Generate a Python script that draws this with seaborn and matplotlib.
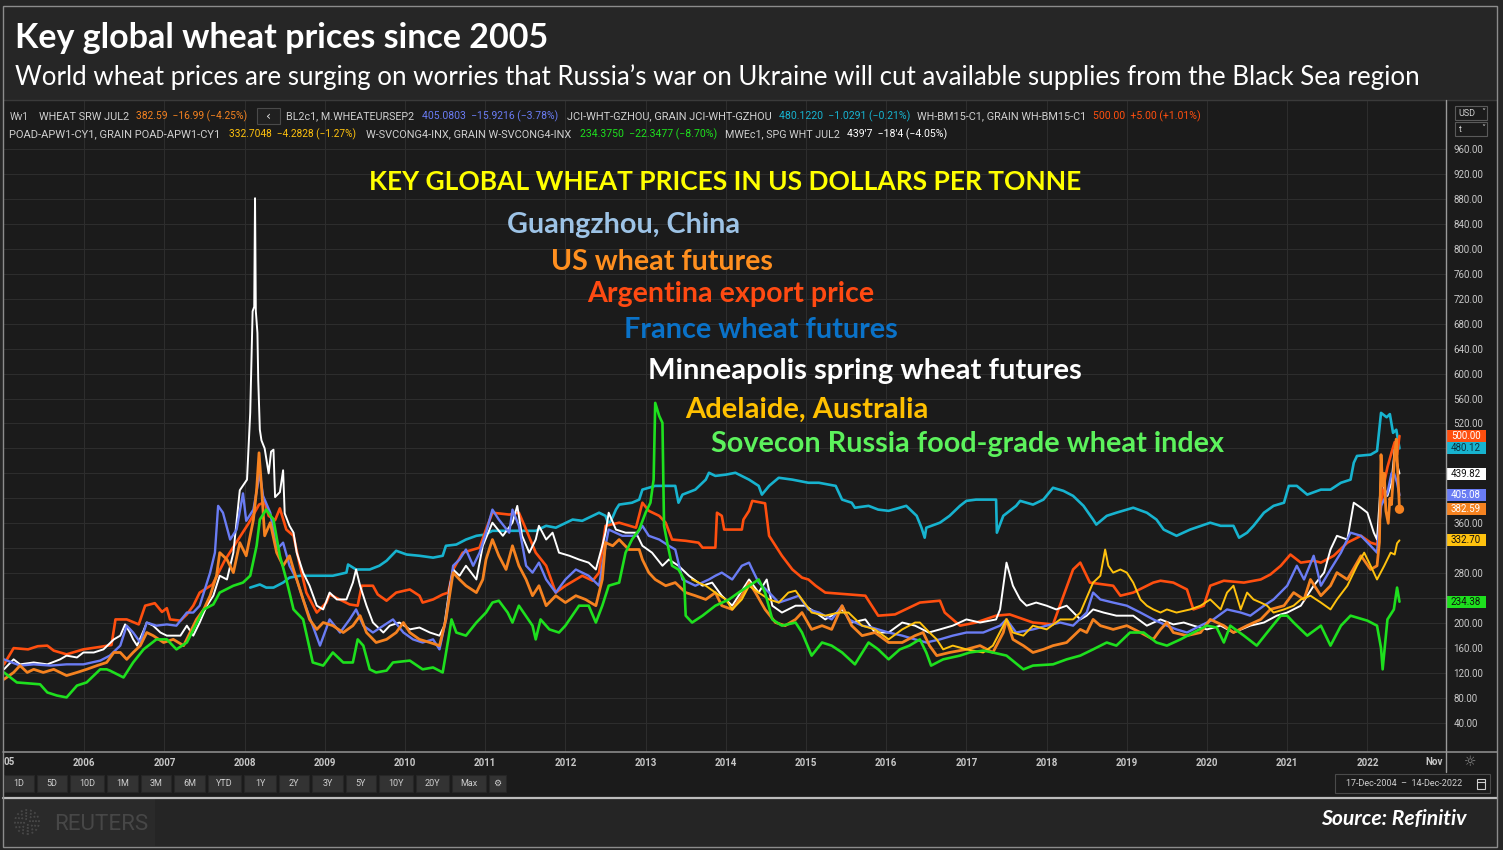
import numpy as np
import pandas as pd
import matplotlib
matplotlib.use("Agg")
import matplotlib.pyplot as plt
import seaborn as sns
from matplotlib.patches import Rectangle, Circle
from matplotlib.lines import Line2D
from matplotlib.transforms import IdentityTransform, blended_transform_factory
from matplotlib.ticker import FuncFormatter

# ---------------- DATA (decimal year, US$ per tonne) ----------------
arg_t = [2005.00, 2005.12, 2005.30, 2005.42, 2005.54, 2005.62, 2005.78, 2005.99, 2006.20, 2006.34, 2006.39, 2006.53,
         2006.68, 2006.76, 2006.88, 2006.97, 2007.03, 2007.07, 2007.20, 2007.28, 2007.36, 2007.44, 2007.60, 2007.75,
         2007.90, 2008.05, 2008.18, 2008.25, 2008.30, 2008.38, 2008.44, 2008.52, 2008.61, 2008.69, 2008.77, 2008.90,
         2009.02, 2009.06, 2009.31, 2009.41, 2009.46, 2009.60, 2009.66, 2009.77, 2009.89, 2010.06, 2010.18, 2010.22,
         2010.35, 2010.47, 2010.54, 2010.60, 2010.72, 2010.85, 2010.93, 2011.01, 2011.09, 2011.30, 2011.42, 2011.51,
         2011.63, 2011.76, 2011.88, 2012.00, 2012.21, 2012.34, 2012.42, 2012.50, 2012.67, 2012.88, 2012.96, 2013.04,
         2013.17, 2013.25, 2013.33, 2013.50, 2013.66, 2013.71, 2013.87, 2013.89, 2013.95, 2013.98, 2014.20, 2014.22,
         2014.29, 2014.33, 2014.49, 2014.54, 2014.70, 2014.83, 2014.95, 2015.03, 2015.12, 2015.24, 2015.74, 2015.90,
         2016.11, 2016.42, 2016.67, 2016.73, 2016.92, 2017.12, 2017.37, 2017.54, 2017.83, 2018.08, 2018.21, 2018.33,
         2018.42, 2018.48, 2018.54, 2018.83, 2018.92, 2019.08, 2019.33, 2019.42, 2019.58, 2019.75, 2019.83, 2019.96,
         2020.04, 2020.21, 2020.46, 2020.67, 2020.79, 2020.92, 2021.04, 2021.17, 2021.33, 2021.42, 2021.58, 2021.75,
         2021.92, 2022.04, 2022.12, 2022.17, 2022.21, 2022.25, 2022.30, 2022.34, 2022.37, 2022.40]
arg_v = [134, 160, 158, 163, 164, 156, 150, 158, 162, 165, 206, 206,
         198, 228, 232, 218, 224, 206, 204, 214, 228, 249, 262, 300,
         330, 360, 390, 394, 372, 365, 384, 350, 340, 292, 249, 217,
         233, 246, 230, 228, 260, 260, 246, 236, 249, 254, 244, 233,
         238, 246, 249, 286, 313, 318, 321, 350, 377, 374, 377, 350,
         313, 292, 249, 260, 276, 268, 281, 356, 361, 353, 393, 380,
         372, 361, 334, 332, 329, 321, 321, 377, 372, 350, 350, 366,
         380, 396, 392, 340, 308, 286, 273, 270, 260, 249, 244, 212,
         214, 233, 236, 217, 196, 201, 212, 214, 201, 198, 244, 286,
         297, 281, 265, 260, 244, 249, 265, 268, 265, 254, 222, 228,
         260, 268, 265, 270, 278, 292, 310, 297, 300, 297, 308, 329,
         340, 329, 326, 388, 425, 450, 473, 490, 470, 500.00]

fra_t = [2005.00, 2005.20, 2005.37, 2005.58, 2005.78, 2005.99, 2006.20, 2006.32, 2006.45, 2006.53, 2006.61, 2006.70,
         2006.78, 2006.90, 2007.03, 2007.15, 2007.28, 2007.36, 2007.44, 2007.57, 2007.63, 2007.67, 2007.73, 2007.82,
         2007.90, 2007.98, 2008.02, 2008.11, 2008.19, 2008.23, 2008.32, 2008.40, 2008.48, 2008.56, 2008.65, 2008.73,
         2008.85, 2008.94, 2009.06, 2009.19, 2009.31, 2009.39, 2009.48, 2009.60, 2009.73, 2009.85, 2009.98, 2010.10,
         2010.22, 2010.35, 2010.43, 2010.51, 2010.60, 2010.68, 2010.76, 2010.85, 2010.93, 2011.01, 2011.09, 2011.17,
         2011.30, 2011.34, 2011.42, 2011.51, 2011.59, 2011.67, 2011.76, 2011.88, 2012.00, 2012.13, 2012.29, 2012.42,
         2012.50, 2012.54, 2012.71, 2012.88, 2012.96, 2013.04, 2013.17, 2013.29, 2013.37, 2013.46, 2013.62, 2013.79,
         2013.87, 2013.95, 2014.08, 2014.20, 2014.29, 2014.33, 2014.41, 2014.54, 2014.66, 2014.78, 2014.91, 2015.03,
         2015.16, 2015.32, 2015.45, 2015.53, 2015.70, 2015.82, 2016.03, 2016.20, 2016.36, 2016.50, 2016.67, 2016.83,
         2017.00, 2017.21, 2017.42, 2017.50, 2017.62, 2017.83, 2018.00, 2018.17, 2018.33, 2018.50, 2018.58, 2018.67,
         2018.83, 2019.00, 2019.17, 2019.33, 2019.50, 2019.62, 2019.75, 2019.92, 2020.08, 2020.25, 2020.42, 2020.54,
         2020.71, 2020.83, 2021.00, 2021.12, 2021.21, 2021.33, 2021.42, 2021.54, 2021.67, 2021.79, 2021.92, 2022.04,
         2022.12, 2022.17, 2022.25, 2022.30, 2022.33, 2022.37, 2022.40]
fra_v = [142, 132, 134, 132, 134, 134, 140, 148, 164, 196, 185, 169,
         201, 196, 198, 196, 217, 217, 228, 281, 313, 388, 377, 334,
         350, 408, 364, 382, 441, 404, 377, 318, 329, 292, 270, 238,
         196, 164, 206, 185, 206, 222, 196, 185, 196, 206, 185, 174,
         169, 174, 158, 206, 292, 302, 318, 292, 313, 345, 382, 366,
         345, 382, 356, 292, 281, 297, 270, 249, 270, 286, 276, 260,
         324, 350, 340, 340, 356, 340, 334, 324, 318, 270, 260, 270,
         276, 281, 270, 292, 297, 286, 265, 249, 233, 238, 244, 222,
         217, 206, 228, 206, 196, 193, 185, 180, 174, 169, 174, 180,
         185, 185, 196, 206, 185, 190, 196, 201, 196, 217, 249, 238,
         233, 228, 217, 206, 196, 190, 185, 196, 206, 222, 217, 212,
         228, 238, 260, 292, 270, 308, 260, 286, 313, 345, 340, 324,
         313, 388, 409, 440, 441, 425, 405.08]

us_t = [2005.00, 2005.12, 2005.20, 2005.29, 2005.37, 2005.49, 2005.62, 2005.78, 2005.91, 2006.03, 2006.16, 2006.28,
        2006.37, 2006.45, 2006.53, 2006.61, 2006.70, 2006.78, 2006.86, 2006.99, 2007.11, 2007.24, 2007.32, 2007.40,
        2007.49, 2007.57, 2007.65, 2007.69, 2007.78, 2007.86, 2007.94, 2008.02, 2008.11, 2008.15, 2008.18, 2008.21,
        2008.25, 2008.32, 2008.40, 2008.48, 2008.56, 2008.61, 2008.69, 2008.81, 2008.90, 2008.98, 2009.10, 2009.23,
        2009.35, 2009.44, 2009.52, 2009.64, 2009.77, 2009.89, 2009.98, 2010.06, 2010.18, 2010.31, 2010.43, 2010.51,
        2010.60, 2010.68, 2010.76, 2010.89, 2010.97, 2011.01, 2011.09, 2011.17, 2011.26, 2011.34, 2011.42, 2011.51,
        2011.59, 2011.67, 2011.76, 2011.88, 2012.00, 2012.13, 2012.25, 2012.38, 2012.46, 2012.50, 2012.59, 2012.67,
        2012.79, 2012.92, 2012.96, 2013.04, 2013.12, 2013.25, 2013.37, 2013.50, 2013.62, 2013.75, 2013.87, 2013.95,
        2014.08, 2014.20, 2014.29, 2014.37, 2014.49, 2014.62, 2014.74, 2014.87, 2014.95, 2015.07, 2015.20, 2015.32,
        2015.45, 2015.57, 2015.70, 2015.86, 2016.03, 2016.20, 2016.36, 2016.46, 2016.54, 2016.63, 2016.79, 2017.00,
        2017.17, 2017.33, 2017.46, 2017.50, 2017.58, 2017.71, 2017.83, 2017.96, 2018.08, 2018.25, 2018.42, 2018.50,
        2018.58, 2018.67, 2018.83, 2019.00, 2019.17, 2019.33, 2019.42, 2019.50, 2019.58, 2019.75, 2019.92, 2020.04,
        2020.21, 2020.33, 2020.50, 2020.67, 2020.79, 2020.96, 2021.08, 2021.21, 2021.29, 2021.42, 2021.54, 2021.62,
        2021.75, 2021.92, 2022.04, 2022.12, 2022.15, 2022.17, 2022.19, 2022.21, 2022.23, 2022.26, 2022.28, 2022.30,
        2022.32, 2022.34, 2022.36, 2022.38, 2022.40]
us_v = [110, 121, 132, 121, 126, 121, 126, 116, 121, 126, 132, 137,
        153, 153, 142, 153, 164, 185, 180, 169, 174, 164, 185, 206,
        222, 244, 276, 313, 302, 281, 329, 308, 366, 414, 473, 420,
        340, 361, 313, 292, 308, 286, 254, 206, 190, 201, 196, 185,
        196, 212, 185, 169, 174, 185, 201, 185, 174, 169, 164, 206,
        281, 270, 260, 249, 270, 302, 334, 308, 286, 324, 292, 270,
        244, 260, 228, 244, 233, 244, 238, 228, 270, 329, 324, 334,
        318, 318, 302, 281, 270, 260, 265, 249, 244, 238, 249, 228,
        222, 244, 265, 249, 222, 201, 196, 206, 217, 190, 196, 190,
        228, 196, 180, 185, 169, 169, 180, 185, 164, 148, 153, 158,
        164, 153, 185, 206, 174, 164, 153, 158, 164, 169, 190, 185,
        206, 196, 190, 196, 185, 174, 190, 201, 185, 180, 185, 206,
        196, 185, 196, 206, 222, 228, 249, 238, 270, 244, 260, 281,
        270, 308, 286, 292, 330, 470, 420, 440, 380, 360, 400, 390,
        430, 470, 495, 440, 382.59]

mpls_t = [2005.00, 2005.12, 2005.20, 2005.37, 2005.54, 2005.70, 2005.78, 2005.91, 2005.99, 2006.12, 2006.24, 2006.37,
          2006.45, 2006.51, 2006.57, 2006.61, 2006.66, 2006.74, 2006.78, 2006.86, 2006.95, 2007.03, 2007.20, 2007.28,
          2007.36, 2007.44, 2007.53, 2007.61, 2007.69, 2007.78, 2007.86, 2007.94, 2008.03, 2008.07, 2008.10, 2008.12,
          2008.13, 2008.14, 2008.16, 2008.17, 2008.19, 2008.21, 2008.25, 2008.30, 2008.33, 2008.36, 2008.38, 2008.44,
          2008.48, 2008.50, 2008.56, 2008.61, 2008.65, 2008.73, 2008.81, 2008.90, 2008.98, 2009.06, 2009.15, 2009.27,
          2009.35, 2009.39, 2009.44, 2009.52, 2009.60, 2009.73, 2009.81, 2009.93, 2010.06, 2010.18, 2010.31, 2010.43,
          2010.49, 2010.56, 2010.60, 2010.68, 2010.76, 2010.89, 2010.97, 2011.09, 2011.22, 2011.34, 2011.40, 2011.46,
          2011.55, 2011.63, 2011.67, 2011.76, 2011.84, 2011.92, 2012.05, 2012.17, 2012.29, 2012.38, 2012.46, 2012.50,
          2012.54, 2012.63, 2012.75, 2012.88, 2012.96, 2013.08, 2013.21, 2013.29, 2013.41, 2013.54, 2013.71, 2013.83,
          2013.95, 2014.08, 2014.16, 2014.29, 2014.41, 2014.51, 2014.58, 2014.70, 2014.87, 2014.99, 2015.12, 2015.24,
          2015.45, 2015.57, 2015.74, 2015.86, 2016.03, 2016.20, 2016.36, 2016.53, 2016.67, 2016.83, 2017.00, 2017.17,
          2017.37, 2017.42, 2017.50, 2017.58, 2017.67, 2017.75, 2017.87, 2018.00, 2018.12, 2018.25, 2018.42, 2018.50,
          2018.58, 2018.71, 2018.87, 2019.08, 2019.25, 2019.42, 2019.58, 2019.71, 2019.83, 2020.00, 2020.17, 2020.33,
          2020.54, 2020.71, 2020.87, 2021.00, 2021.17, 2021.33, 2021.46, 2021.54, 2021.62, 2021.75, 2021.83, 2021.92,
          2022.00, 2022.08, 2022.12, 2022.17, 2022.25, 2022.30, 2022.34, 2022.38, 2022.40]
mpls_v = [126, 142, 134, 137, 134, 142, 148, 145, 153, 153, 158, 174,
          180, 198, 185, 174, 164, 188, 201, 196, 185, 180, 180, 196,
          180, 201, 228, 244, 276, 270, 313, 413, 430, 537, 700, 707,
          881, 700, 665, 590, 510, 493, 480, 440, 475, 478, 402, 410,
          445, 376, 356, 345, 313, 281, 260, 228, 222, 249, 238, 238,
          265, 286, 260, 228, 201, 185, 196, 201, 190, 193, 185, 180,
          196, 260, 286, 276, 292, 270, 324, 361, 340, 361, 388, 340,
          313, 334, 356, 334, 345, 313, 308, 302, 297, 286, 324, 345,
          377, 350, 345, 345, 324, 313, 292, 302, 292, 276, 260, 265,
          244, 228, 244, 270, 249, 270, 228, 217, 228, 228, 217, 206,
          222, 201, 206, 185, 185, 201, 196, 185, 190, 196, 206, 201,
          206, 222, 297, 260, 238, 228, 233, 228, 222, 228, 206, 212,
          222, 217, 212, 212, 196, 206, 198, 201, 196, 190, 196, 185,
          196, 201, 212, 217, 228, 260, 281, 318, 340, 334, 393, 385,
          377, 345, 334, 430, 404, 425, 478, 450, 439.82]

gz_t = [2008.07, 2008.19, 2008.27, 2008.36, 2008.48, 2008.56, 2008.69, 2008.90, 2009.10, 2009.27, 2009.29, 2009.39,
        2009.56, 2009.68, 2009.77, 2009.89, 2010.02, 2010.18, 2010.35, 2010.47, 2010.51, 2010.64, 2010.76, 2010.89,
        2011.00, 2011.09, 2011.38, 2011.63, 2011.76, 2011.88, 2012.09, 2012.21, 2012.42, 2012.50, 2012.54, 2012.59,
        2012.63, 2012.67, 2012.83, 2012.92, 2012.96, 2013.12, 2013.37, 2013.41, 2013.46, 2013.62, 2013.75, 2013.79,
        2013.87, 2014.00, 2014.12, 2014.29, 2014.41, 2014.45, 2014.54, 2014.66, 2014.83, 2015.03, 2015.16, 2015.37,
        2015.45, 2015.57, 2015.61, 2015.78, 2015.90, 2016.03, 2016.17, 2016.25, 2016.38, 2016.44, 2016.48, 2016.50,
        2016.67, 2016.79, 2016.92, 2017.00, 2017.12, 2017.37, 2017.38, 2017.46, 2017.62, 2017.67, 2017.83, 2017.96,
        2018.08, 2018.21, 2018.33, 2018.46, 2018.58, 2018.62, 2018.75, 2018.87, 2019.08, 2019.25, 2019.37, 2019.46,
        2019.62, 2019.79, 2020.04, 2020.17, 2020.33, 2020.40, 2020.50, 2020.58, 2020.71, 2020.83, 2020.96, 2021.02,
        2021.12, 2021.25, 2021.42, 2021.54, 2021.67, 2021.79, 2021.83, 2021.87, 2022.04, 2022.12, 2022.17, 2022.24,
        2022.28, 2022.32, 2022.36, 2022.40]
gz_v = [257, 262, 257, 257, 265, 273, 276, 276, 276, 281, 294, 286,
        286, 292, 300, 316, 310, 308, 305, 308, 324, 326, 334, 340,
        342, 348, 348, 348, 356, 353, 366, 364, 377, 372, 358, 370,
        382, 390, 393, 398, 414, 420, 420, 393, 406, 414, 430, 441,
        436, 438, 441, 430, 420, 406, 420, 433, 430, 425, 425, 420,
        398, 393, 385, 388, 382, 380, 385, 388, 372, 353, 337, 353,
        361, 372, 388, 396, 398, 398, 345, 372, 388, 396, 390, 398,
        417, 412, 404, 388, 366, 358, 372, 377, 385, 377, 366, 350,
        340, 350, 361, 356, 356, 337, 345, 356, 377, 388, 393, 420,
        420, 406, 414, 414, 425, 430, 457, 468, 470, 476, 537, 530,
        535, 505, 510, 480.12]

adl_t = [2013.58, 2013.66, 2013.75, 2013.87, 2014.00, 2014.08, 2014.20, 2014.29, 2014.41, 2014.54, 2014.66, 2014.78,
         2014.87, 2014.95, 2015.07, 2015.24, 2015.41, 2015.53, 2015.70, 2015.86, 2016.03, 2016.20, 2016.36, 2016.42,
         2016.54, 2016.63, 2016.71, 2016.83, 2017.00, 2017.21, 2017.33, 2017.50, 2017.58, 2017.71, 2017.83, 2018.00,
         2018.17, 2018.33, 2018.42, 2018.58, 2018.67, 2018.73, 2018.77, 2018.83, 2018.92, 2019.00, 2019.08, 2019.17,
         2019.25, 2019.33, 2019.42, 2019.50, 2019.62, 2019.79, 2019.92, 2020.04, 2020.17, 2020.25, 2020.33, 2020.42,
         2020.50, 2020.58, 2020.67, 2020.75, 2020.83, 2020.96, 2021.08, 2021.17, 2021.29, 2021.42, 2021.54, 2021.62,
         2021.75, 2021.87, 2021.96, 2022.04, 2022.12, 2022.21, 2022.29, 2022.34, 2022.37, 2022.40]
adl_v = [270, 265, 260, 249, 238, 222, 238, 260, 249, 238, 233, 249,
         252, 238, 217, 212, 217, 217, 196, 190, 174, 190, 201, 201,
         185, 174, 158, 164, 158, 153, 164, 206, 185, 180, 196, 190,
         206, 206, 217, 265, 276, 318, 292, 281, 286, 281, 265, 238,
         228, 222, 217, 222, 217, 222, 228, 238, 222, 249, 260, 222,
         249, 238, 233, 228, 217, 222, 228, 238, 244, 233, 222, 238,
         260, 292, 313, 292, 270, 292, 313, 310, 328, 332.70]

rus_t = [2005.00, 2005.16, 2005.45, 2005.54, 2005.66, 2005.78, 2005.91, 2006.03, 2006.20, 2006.28, 2006.32, 2006.49,
         2006.61, 2006.74, 2006.90, 2007.03, 2007.15, 2007.28, 2007.49, 2007.61, 2007.69, 2007.86, 2007.98, 2008.07,
         2008.15, 2008.19, 2008.27, 2008.36, 2008.44, 2008.52, 2008.61, 2008.73, 2008.85, 2008.98, 2009.10, 2009.23,
         2009.35, 2009.41, 2009.48, 2009.56, 2009.64, 2009.77, 2009.85, 2010.06, 2010.22, 2010.35, 2010.47, 2010.54,
         2010.58, 2010.64, 2010.76, 2010.89, 2011.01, 2011.09, 2011.17, 2011.28, 2011.34, 2011.42, 2011.59, 2011.63,
         2011.69, 2011.80, 2011.92, 2012.00, 2012.17, 2012.29, 2012.38, 2012.46, 2012.54, 2012.67, 2012.75, 2012.83,
         2012.92, 2013.00, 2013.06, 2013.10, 2013.12, 2013.17, 2013.21, 2013.23, 2013.27, 2013.33, 2013.41, 2013.48,
         2013.50, 2013.58, 2013.71, 2013.87, 2014.04, 2014.16, 2014.29, 2014.41, 2014.49, 2014.58, 2014.70, 2014.87,
         2014.95, 2015.07, 2015.20, 2015.32, 2015.45, 2015.61, 2015.78, 2015.90, 2016.03, 2016.17, 2016.29, 2016.42,
         2016.50, 2016.56, 2016.71, 2016.92, 2017.04, 2017.21, 2017.33, 2017.50, 2017.71, 2017.83, 2018.08, 2018.25,
         2018.42, 2018.58, 2018.75, 2018.87, 2019.04, 2019.21, 2019.37, 2019.50, 2019.67, 2019.83, 2020.00, 2020.12,
         2020.21, 2020.29, 2020.46, 2020.62, 2020.75, 2020.92, 2021.00, 2021.08, 2021.25, 2021.42, 2021.54, 2021.67,
         2021.79, 2022.00, 2022.12, 2022.17, 2022.19, 2022.25, 2022.33, 2022.37, 2022.40]
rus_v = [121, 105, 102, 89, 84, 81, 100, 105, 126, 126, 124, 113,
         137, 158, 174, 174, 158, 169, 222, 230, 249, 260, 265, 276,
         324, 366, 382, 366, 308, 270, 222, 206, 137, 132, 153, 137,
         137, 174, 164, 126, 121, 124, 137, 140, 126, 129, 121, 174,
         206, 185, 180, 201, 217, 233, 236, 217, 201, 228, 196, 174,
         206, 190, 185, 196, 228, 228, 201, 228, 260, 265, 313, 334,
         350, 377, 393, 430, 553, 532, 521, 356, 329, 292, 286, 270,
         212, 201, 212, 228, 238, 249, 260, 270, 249, 206, 196, 201,
         185, 148, 169, 164, 153, 134, 169, 158, 142, 158, 164, 174,
         153, 132, 142, 148, 153, 156, 153, 148, 126, 132, 134, 142,
         148, 158, 169, 164, 185, 185, 169, 164, 174, 185, 196, 193,
         169, 196, 180, 164, 185, 212, 212, 201, 180, 196, 164, 196,
         212, 204, 196, 160, 126, 206, 222, 257, 234.38]

year_ticks = list(range(2006, 2023))
year_labels = [str(y) for y in year_ticks]
y_ticks = list(range(40, 961, 40))

# ---------------- FIGURE ----------------
sns.set_theme(style="dark")
plt.rcParams['font.family'] = ['Lato', 'DejaVu Sans']

W, H = 1503, 850
fig = plt.figure(figsize=(W / 100, H / 100), dpi=100)
fig.patch.set_facecolor('#262626')
PIX = IdentityTransform()


def rect(x0, y0, x1, y1, fc='none', ec='none', lw=1.0, z=-1):
    fig.add_artist(Rectangle((x0, H - y1), x1 - x0, y1 - y0, transform=PIX,
                             facecolor=fc, edgecolor=ec, linewidth=lw, zorder=z))


def hline(x0, x1, y, c, lw=1.0, z=5):
    fig.add_artist(Line2D([x0, x1], [H - y, H - y], transform=PIX, color=c, lw=lw, zorder=z))


def vline(x, y0, y1, c, lw=1.0, z=5):
    fig.add_artist(Line2D([x, x], [H - y0, H - y1], transform=PIX, color=c, lw=lw, zorder=z))


renderer = fig.canvas.get_renderer()


def ftext(x, y, s, **kw):
    kw.setdefault('zorder', 10)
    return fig.text(x / W, 1 - y / H, s, **kw)


def fit_text(s, x0, x1, base, color, weight='bold', family=None, style='normal', size=14, va='baseline'):
    kw = dict(color=color, fontsize=size, fontweight=weight, fontstyle=style, va=va, ha='left')
    if family:
        kw['family'] = family
    t = ftext(x0, base, s, **kw)
    w = t.get_window_extent(renderer).width
    t.set_fontsize(size * (x1 - x0) / w)
    return t


# panels
rect(3, 100, 1497, 797, fc='#1b1b1b', z=-2)
rect(3, 797, 1497, 847, fc='#252525', z=-2)
rect(4, 799, 155, 846, fc='#2a2a2a', z=-1)
rect(3, 6, 1497, 847, ec='#8c8c8c', lw=1.0, z=20)
hline(3, 1497, 100, '#3a3a3a', 1.0)
hline(3, 1497, 797.5, '#bdbdbd', 1.6)
hline(3, 1497, 752, '#8a8a8a', 1.2)
vline(1446, 100, 772, '#9a9a9a', 1.0)

# ---------------- AXES ----------------
ax = fig.add_axes([3 / W, 1 - 752 / H, 1444 / W, 652 / H])
ax.set_facecolor('#1b1b1b')

series = [
    (gz_t, gz_v, '#17b3cf', 1.9),
    (arg_t, arg_v, '#ff4f0f', 1.9),
    (mpls_t, mpls_v, '#ffffff', 1.4),
    (fra_t, fra_v, '#6a7cf4', 1.7),
    (us_t, us_v, '#f58220', 2.0),
    (adl_t, adl_v, '#ffc20e', 1.4),
    (rus_t, rus_v, '#1ee01e', 1.9),
]
for t, v, c, lw in series:
    sns.lineplot(x=t, y=v, ax=ax, color=c, linewidth=lw, estimator=None, sort=False, legend=False)
sns.scatterplot(x=[us_t[-1]], y=[us_v[-1]], ax=ax, color='#f58220', s=45, edgecolor='none', zorder=6, legend=False)

# last-value tags (value, tag colour, text colour)
tags = [(arg_v[-1], '#ff4f0f', 'white'), (gz_v[-1], '#17b3cf', '#0b3340'), (mpls_v[-1], '#ffffff', '#101010'),
        (fra_v[-1], '#6a7cf4', 'white'), (us_v[-1], '#f58220', 'white'), (adl_v[-1], '#ffc20e', '#101010'),
        (rus_v[-1], '#1ee01e', '#101010')]
tag_vals = [tv for tv, _, _ in tags]

ax.set_xlim(2005 - 1 / 80.2, 2005 + 1443 / 80.2)
ax.set_ylim(40 - 29 / 0.624, 40 + 623 / 0.624)
ax.set_xticks(year_ticks)
ax.set_xticklabels(year_labels)
ax.set_yticks(y_ticks)
ax.yaxis.set_major_formatter(FuncFormatter(
    lambda v, p: '' if any(abs(v - tv) < 13 for tv in tag_vals) else f'{v:.2f}'))
ax.yaxis.tick_right()
ax.grid(True, color='#2d2d2d', lw=0.8)
ax.set_axisbelow(True)
ax.tick_params(axis='x', length=0, pad=4, labelsize=7, labelcolor='#c8c8c8', bottom=True)
ax.tick_params(axis='y', length=0, pad=4.5, labelsize=7, labelcolor='#c8c8c8', right=True, left=False)
for lab in ax.get_xticklabels():
    lab.set_family('Roboto')
    lab.set_fontweight('bold')
for lab in ax.get_yticklabels():
    lab.set_family('Roboto')
for s in ax.spines.values():
    s.set_visible(False)
ax.set_xlabel('')
ax.set_ylabel('')

btr = blended_transform_factory(ax.transAxes, ax.transData)
for val, bg, fg in tags:
    ax.add_patch(Rectangle((1 + (1446.5 - 1447) / 1444, val - 6 / 0.624), 39.5 / 1444, 12 / 0.624,
                           transform=btr, facecolor=bg, edgecolor='none', clip_on=False, zorder=11))
    ax.text(1 + (1466 - 1447) / 1444, val, f"{val:.2f}", transform=btr, ha='center', va='center',
            fontsize=7, family='Roboto', color=fg, clip_on=False, zorder=12)

# extra x labels
ftext(4, 762, '05', fontsize=7, family='Roboto', fontweight='bold', color='#c8c8c8', va='center', ha='left')
ftext(1434, 762, 'Nov', fontsize=7, family='Roboto', fontweight='bold', color='#c8c8c8', va='center', ha='center')
ftext(1470, 762, '☼', fontsize=10, family='DejaVu Sans', color='#8a8a8a', va='center', ha='center')

# ---------------- INFO BAR ----------------
grey = '#cfcfcf'
info1 = [('Wv1', 10, 29, grey), ('WHEAT SRW JUL2', 39, 129, grey),
         ('382.59  \u221216.99 (\u22124.25%)', 136, 249, '#f58220'),
         ('BL2c1, M.WHEATEURSEP2', 286, 416, grey), ('405.0803  \u221215.9216 (\u22123.78%)', 422, 559, '#6a7cf4'),
         ('JCI-WHT-GZHOU, GRAIN JCI-WHT-GZHOU', 567, 773, grey),
         ('480.1220  \u22121.0291 (\u22120.21%)', 779, 911, '#17b3cf'),
         ('WH-BM15-C1, GRAIN WH-BM15-C1', 917, 1087, grey), ('500.00  +5.00 (+1.01%)', 1093, 1200, '#ff4f0f')]
info2 = [('POAD-APW1-CY1, GRAIN POAD-APW1-CY1', 9, 222, grey),
         ('332.7048  \u22124.2828 (\u22121.27%)', 229, 358, '#ffc20e'),
         ('W-SVCONG4-INX, GRAIN W-SVCONG4-INX', 366, 574, grey),
         ('234.3750  \u221222.3477 (\u22128.70%)', 580, 718, '#1ee01e'),
         ('MWEc1, SPG WHT JUL2', 725, 841, grey), ("439'7  \u221218'4 (\u22124.05%)", 847, 948, '#ffffff')]
for s, x0, x1, c in info1:
    fit_text(s, x0, x1, 119.5, c, weight='normal', family=['Roboto', 'DejaVu Sans'], size=7)
for s, x0, x1, c in info2:
    fit_text(s, x0, x1, 137.5, c, weight='normal', family=['Roboto', 'DejaVu Sans'], size=7)
rect(257, 108, 280, 124, fc='#202020', ec='#4a4a4a', lw=0.8, z=9)
ftext(268.5, 116, '\u2039', fontsize=9, color='#dddddd', ha='center', va='center', family='DejaVu Sans')

# USD / t selectors
rect(1455, 106, 1487, 120, fc='#1b1b1b', ec='#5a5a5a', lw=0.8, z=9)
rect(1455, 122, 1487, 136, fc='#1b1b1b', ec='#5a5a5a', lw=0.8, z=9)
ftext(1458, 113, 'USD', fontsize=6.5, family='Roboto', color=grey, va='center', ha='left')
ftext(1483, 113, '\u02c5', fontsize=6, family='DejaVu Sans', color=grey, va='center', ha='center')
ftext(1459, 129, 't', fontsize=6.5, family='Roboto', color=grey, va='center', ha='left')
ftext(1483, 129, '\u02c5', fontsize=6, family='DejaVu Sans', color=grey, va='center', ha='center')

# ---------------- TITLES & ANNOTATIONS ----------------
fit_text('Key global wheat prices since 2005', 15, 549, 48, 'white', weight='bold', size=24)
fit_text('World wheat prices are surging on worries that Russia\u2019s war on Ukraine will cut available supplies '
         'from the Black Sea region', 15, 1413, 85, 'white', weight='normal', size=18)

annotations = [("KEY GLOBAL WHEAT PRICES IN US DOLLARS PER TONNE", 369, 1080, 190, '#ffff00'),
               ("Guangzhou, China", 507, 739, 233, '#9dc3e6'),
               ("US wheat futures", 551, 773, 270, '#ff8f1f'),
               ("Argentina export price", 587, 875, 302, '#ff4a12'),
               ("France wheat futures", 624, 897, 338, '#0a72c8'),
               ("Minneapolis spring wheat futures", 648, 1082, 379, '#ffffff'),
               ("Adelaide, Australia", 685, 928, 418, '#ffc000'),
               ("Sovecon Russia food-grade wheat index", 711, 1223, 452, '#5cf25c')]
for s, x0, x1, base, c in annotations:
    fit_text(s, x0, x1, base, c, weight='bold', size=20)

# ---------------- TOOLBAR ----------------
buttons = [(4, 34, '1D'), (37, 67, '5D'), (70, 104, '10D'), (107, 138, '1M'), (141, 171, '3M'), (174, 205, '6M'),
           (208, 241, 'YTD'), (244, 276, '1Y'), (279, 309, '2Y'), (312, 343, '3Y'), (346, 376, '5Y'),
           (379, 413, '10Y'), (416, 449, '20Y'), (452, 486, 'Max'), (489, 506, '\u2699')]
for x0, x1, s in buttons:
    rect(x0, 775, x1, 792, fc='#333333', ec='#262626', lw=0.8, z=8)
    ftext((x0 + x1) / 2, 783.5, s, fontsize=6.5, family=['Roboto', 'DejaVu Sans'], color=grey,
          ha='center', va='center')

rect(1335, 774, 1490, 793, fc='#1b1b1b', ec='#4a4a4a', lw=0.8, z=8)
ftext(1404, 783.5, '17-Dec-2004  \u2013  14-Dec-2022', fontsize=6.5, family='Roboto', color=grey,
      ha='center', va='center')
rect(1477, 779, 1485, 789, ec=grey, lw=0.8, z=9)
hline(1477, 1485, 781.5, grey, 0.8, z=9)

# ---------------- FOOTER ----------------
for r in [3, 6, 9, 12]:
    fig.add_artist(Circle((27, H - 822), r, transform=PIX, fill=False, edgecolor='#484848',
                          lw=1.3, linestyle=(0, (1, 1.6)), zorder=3))
fit_text('REUTERS', 54, 148, 830, '#474747', weight='normal', family='Roboto', size=14)
fit_text('Source: Refinitiv', 1321, 1467, 825, 'white', weight='bold', style='italic', size=14)

fig.savefig('out.png', dpi=100, facecolor=fig.get_facecolor())
